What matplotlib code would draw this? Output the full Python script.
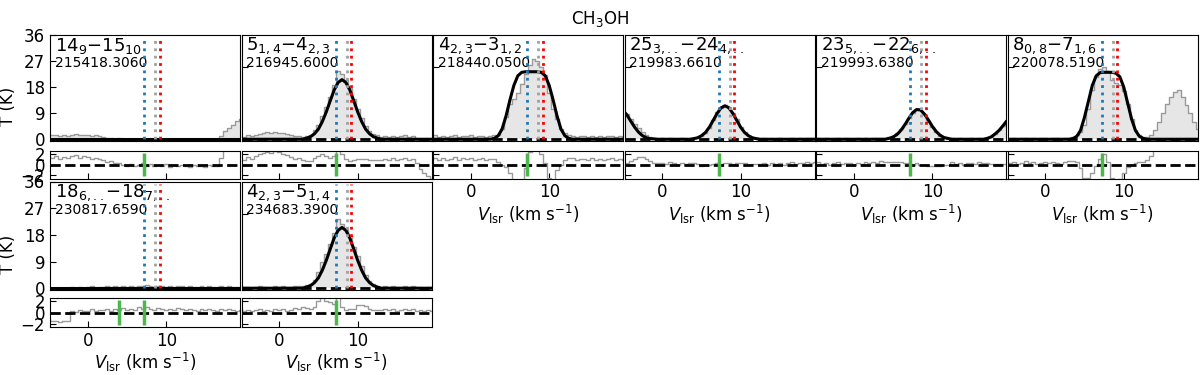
import numpy as np
import matplotlib
matplotlib.use('Agg')
import matplotlib.pyplot as plt

# velocity channels (km/s), 0.5 km/s spacing
velocity = np.arange(-5.0, 19.75, 0.5)

transitions = ['14$_9$−15$_{10}$', '5$_{1,4}$−4$_{2,3}$', '4$_{2,3}$−3$_{1,2}$',
               '25$_{3,..}$−24$_{4,..}$', '23$_{5,..}$−22$_{6,..}$', '8$_{0,8}$−7$_{1,6}$',
               '18$_{6,..}$−18$_{7,..}$', '4$_{2,3}$−5$_{1,4}$']
frequencies = ['215418.3060', '216945.6000', '218440.0500', '219983.6610',
               '219993.6380', '220078.5190', '230817.6590', '234683.3900']

# observed spectra (K)
obs_14_9 = [1.6, 1.3, 1.5, 1.1, 1.4, 1.2, 1.5, 1.7, 1.3, 1.6,
            1.4, 1.1, 1.3, 1.0, 0.8, 0.5, 0.6, 0.2, 0.3, 0.0,
            -0.2, 0.1, -0.3, -0.1, 0.2, -0.2, 0.1, -0.3, 0.0, -0.2,
            0.1, -0.4, -0.1, -0.3, 0.0, -0.2, -0.4, -0.1, -0.3, -0.2,
            -0.4, -0.1, -0.3, -0.2, 1.2, 2.8, 4.0, 4.9, 6.2, 7.0]
obs_5_14 = [1.2, 0.8, 1.4, 1.1, 1.6, 1.9, 2.2, 2.4, 2.1, 2.5,
            2.3, 2.0, 1.7, 1.4, 1.0, 1.2, 0.8, 1.1, 1.6, 3.2,
            5.0, 8.0, 11.0, 14.5, 18.5, 23.5, 22.5, 20.5, 17.5, 14.0,
            10.5, 7.2, 4.5, 2.8, 1.8, 1.3, 0.8, 1.1, 0.9, 1.2,
            0.8, 1.1, 1.3, 0.9, 1.0, 0.2, -0.9, -1.6, -2.1, -2.6]
obs_4_23 = [1.0, 1.3, 0.8, 1.2, 0.9, 1.1, 1.4, 0.9, 1.2, 1.0,
            1.3, 0.9, 1.1, 1.2, 0.8, 1.1, 1.3, 1.6, 3.5, 7.5,
            12.0, 14.0, 16.0, 19.0, 22.5, 25.5, 27.5, 27.0, 25.0, 22.0,
            16.0, 10.5, 7.0, 3.5, 2.0, 1.5, 1.2, 0.9, 1.1, 1.0,
            0.8, 1.2, 0.9, 1.1, 0.8, 1.0, 1.2, 0.9, 1.1, 0.8]
obs_25_3 = [9.8, 8.6, 6.9, 5.2, 3.8, 2.6, 1.5, 0.8, 0.4, 0.2,
            0.3, 0.1, 0.4, 0.2, 0.0, 0.3, 0.1, 0.2, 0.4, 0.6,
            1.0, 2.2, 4.0, 6.6, 9.2, 10.9, 11.8, 11.0, 9.0, 6.8,
            4.3, 2.5, 1.2, 0.6, 0.3, 0.1, 0.3, 0.0, 0.2, 0.1,
            0.3, 0.0, 0.2, 0.4, 0.1, 0.3, 0.2, 0.4, 0.3, 0.5]
obs_23_5 = [0.2, 0.4, 0.1, 0.3, 0.0, 0.2, 0.4, 0.1, 0.3, 0.2,
            0.0, 0.3, 0.1, 0.4, 0.2, 0.5, 0.3, 0.6, 0.4, 0.7,
            1.2, 2.0, 3.4, 5.2, 7.3, 9.0, 10.4, 10.1, 8.6, 6.4,
            4.2, 2.4, 1.2, 0.6, 0.2, 0.4, 0.1, 0.3, 0.0, 0.2,
            0.3, 0.1, 0.4, 0.2, 0.5, 0.9, 1.9, 3.1, 4.7, 6.4]
obs_8_08 = [0.4, 0.2, 0.5, 0.1, 0.3, 0.6, 0.2, 0.4, 0.1, 0.3,
            0.5, 0.2, 0.4, 0.3, 0.1, 0.4, 0.6, 0.8, 1.4, 2.4,
            5.0, 10.5, 17.0, 21.5, 24.0, 25.0, 23.5, 20.5, 19.5, 18.8,
            16.5, 12.0, 7.0, 3.2, 1.4, 0.8, 0.9, 1.6, 3.2, 6.0,
            9.0, 12.0, 14.5, 16.3, 16.8, 14.5, 11.8, 9.0, 6.0, 3.5]
obs_18_6 = [-1.0, -1.6, -1.5, -1.7, -1.5, -1.6, 0.3, 0.1, 0.4, 0.2,
            0.3, 0.6, 0.2, 0.5, 0.4, 0.7, 0.3, 0.6, 0.5, 0.8,
            0.4, 0.7, 0.5, 0.9, 0.6, 1.0, 0.7, 0.5, 0.8, 0.6,
            0.4, 0.7, 0.5, 0.8, 0.6, 0.4, 0.7, 0.5, 0.3, 0.6,
            0.4, 0.7, 0.5, 0.3, 0.6, 0.4, 0.7, 0.5, 0.3, 0.5]
obs_4_23b = [0.6, 0.3, 0.5, 0.2, 0.4, 0.7, 0.3, 0.5, 0.2, 0.6,
             0.4, 0.7, 0.3, 0.5, 0.8, 0.6, 0.9, 1.2, 1.5, 2.8,
             5.5, 9.0, 11.5, 15.0, 18.5, 23.2, 21.5, 20.0, 17.5, 13.8,
             10.8, 7.5, 4.6, 2.5, 1.3, 0.8, 0.5, 0.7, 0.4, 0.6,
             0.3, 0.5, 0.7, 0.4, 0.6, 0.3, 0.5, 0.2, 0.4, 0.3]

# fitted model spectra (K)
fit_14_9 = [0, 0, 0, 0, 0, 0, 0, 0, 0, 0,
            0, 0, 0, 0, 0, 0, 0, 0, 0, 0,
            0, 0, 0, 0, 0, 0, 0, 0, 0, 0,
            0, 0, 0, 0, 0, 0, 0, 0, 0, 0,
            0, 0, 0, 0, 0, 0, 0, 0, 0, 0]
fit_5_14 = [0, 0, 0, 0, 0, 0, 0, 0, 0, 0,
            0, 0, 0, 0, 0, 0, 0, 0.4, 0.9, 1.9,
            3.5, 6.1, 9.4, 13.2, 16.9, 19.5, 20.5, 19.5, 16.9, 13.2,
            9.4, 6.1, 3.5, 1.9, 0.9, 0.4, 0, 0, 0, 0,
            0, 0, 0, 0, 0, 0, 0, 0, 0, 0]
fit_4_23 = [0, 0, 0, 0, 0, 0, 0, 0, 0, 0,
            0, 0, 0, 0, 0, 0, 0.3, 1.2, 3.5, 8.0,
            13.5, 18.5, 21.8, 23.0, 23.2, 23.2, 23.2, 23.2, 23.0, 21.8,
            18.5, 13.5, 8.0, 3.5, 1.2, 0.3, 0, 0, 0, 0,
            0, 0, 0, 0, 0, 0, 0, 0, 0, 0]
fit_25_3 = [9.9, 8.4, 6.2, 4.1, 2.4, 1.2, 0.5, 0.2, 0.1, 0,
            0, 0, 0, 0, 0, 0, 0, 0, 0.2, 0.5,
            1.2, 2.3, 4.1, 6.5, 8.9, 10.8, 11.5, 10.8, 8.9, 6.5,
            4.1, 2.3, 1.2, 0.5, 0.2, 0, 0, 0, 0, 0,
            0, 0, 0, 0, 0, 0, 0, 0, 0, 0]
fit_23_5 = [0, 0, 0, 0, 0, 0, 0, 0, 0, 0,
            0, 0, 0, 0, 0, 0, 0, 0, 0, 0.3,
            0.75, 1.6, 3.0, 4.9, 7.1, 9.1, 10.2, 10.1, 8.7, 6.7,
            4.5, 2.7, 1.4, 0.6, 0.3, 0, 0, 0, 0, 0,
            0, 0, 0, 0, 0.3, 0.8, 1.8, 3.0, 4.6, 6.3]
fit_8_08 = [0, 0, 0, 0, 0, 0, 0, 0, 0, 0,
            0, 0, 0, 0, 0, 0, 0, 0.2, 0.9, 3.0,
            7.5, 13.0, 18.5, 21.8, 22.9, 23.0, 23.0, 23.0, 22.7, 21.5,
            18.0, 12.5, 7.0, 3.0, 1.0, 0.3, 0, 0, 0, 0,
            0, 0, 0, 0, 0, 0, 0, 0, 0, 0]
fit_18_6 = [0, 0, 0, 0, 0, 0, 0, 0, 0, 0,
            0, 0, 0, 0, 0, 0, 0, 0, 0, 0,
            0, 0, 0, 0, 0, 0, 0, 0, 0, 0,
            0, 0, 0, 0, 0, 0, 0, 0, 0, 0,
            0, 0, 0, 0, 0, 0, 0, 0, 0, 0]
fit_4_23b = [0, 0, 0, 0, 0, 0, 0, 0, 0, 0,
             0, 0, 0, 0, 0, 0, 0, 0.4, 0.9, 1.9,
             3.5, 6.1, 9.4, 13.2, 16.9, 19.5, 20.5, 19.5, 16.9, 13.2,
             9.4, 6.1, 3.5, 1.9, 0.9, 0.4, 0, 0, 0, 0,
             0, 0, 0, 0, 0, 0, 0, 0, 0, 0]

observed = [obs_14_9, obs_5_14, obs_4_23, obs_25_3, obs_23_5, obs_8_08, obs_18_6, obs_4_23b]
fitted = [fit_14_9, fit_5_14, fit_4_23, fit_25_3, fit_23_5, fit_8_08, fit_18_6, fit_4_23b]

# reference velocities (km/s)
v_blue = 7.2
v_gray = 8.6
v_red = 9.2
green_marks = [[7.2], [7.2], [7.2], [7.2], [7.2], [7.2], [4.0, 7.2], [7.2]]

W, H = 1200, 375
fig = plt.figure(figsize=(12, 3.75), dpi=100)
col_left = [50, 241.5, 433, 624.5, 816, 1007.5]
col_w = 190
rows = [(34.5, 141, 150.5, 178.5), (181.5, 290, 298, 327)]

def frac(left, top, bottom):
    return [left / W, 1 - bottom / H, col_w / W, (bottom - top) / H]

for k in range(8):
    r, c = (0, k) if k < 6 else (1, k - 6)
    mt, mb, rt, rb = rows[r]
    ax = fig.add_axes(frac(col_left[c], mt, mb))
    axr = fig.add_axes(frac(col_left[c], rt, rb))
    obs = np.array(observed[k])
    fit = np.array(fitted[k])

    ax.fill_between(velocity, 0, obs, step='mid', color='#e6e6e6', lw=0, zorder=1)
    ax.step(velocity, obs, where='mid', color='#9a9a9a', lw=1, zorder=2)
    ax.axhline(0, color='k', ls='--', lw=2, zorder=3)
    ax.plot(velocity, fit, color='k', lw=2.2, zorder=4)
    ax.vlines(v_blue, 0, 35, colors='#1f77b4', linestyles=':', lw=2, zorder=5)
    ax.vlines(v_gray, 0, 35, colors='#a0a0a0', linestyles=':', lw=2, zorder=5)
    ax.vlines(v_red, 0, 35, colors='red', linestyles=':', lw=2, zorder=5)
    ax.text(0.025, 0.99, transitions[k], transform=ax.transAxes, ha='left', va='top', fontsize=13)
    ax.text(0.025, 0.80, frequencies[k], transform=ax.transAxes, ha='left', va='top', fontsize=10)
    ax.set_xlim(-4.8, 19.4)
    ax.set_ylim(-0.6, 36)
    ax.set_xticks([])

    axr.step(velocity, obs - fit, where='mid', color='#9a9a9a', lw=1, zorder=2)
    axr.axhline(0, color='k', ls='--', lw=2, zorder=3)
    axr.vlines(green_marks[k], -2.2, 2.2, colors='#4cb84c', lw=2.5, zorder=4)
    axr.set_xlim(-4.8, 19.4)
    axr.set_ylim(-2.6, 2.6)
    axr.set_xticks([0, 10])
    axr.set_yticks([-2, 0, 2])

    for a in (ax, axr):
        a.tick_params(direction='in', length=4, labelsize=12, right=False, top=False)

    if c == 0:
        ax.set_yticks([0, 9, 18, 27, 36])
        fig.text(8 / W, 1 - (mt + rb) / 2 / H, 'T (K)', rotation=90, ha='center', va='center', fontsize=12)
    else:
        ax.set_yticks([0, 25])
        ax.set_yticklabels([])
        axr.set_yticklabels([])

    if (r == 0 and c >= 2) or r == 1:
        axr.set_xlabel('$V_{\\rm lsr}$ (km s$^{-1}$)', fontsize=12, labelpad=1)
    else:
        axr.set_xticklabels([])

fig.text(0.5, 0.975, 'CH$_3$OH', ha='center', va='top', fontsize=12)

fig.savefig('out.png', dpi=100)
